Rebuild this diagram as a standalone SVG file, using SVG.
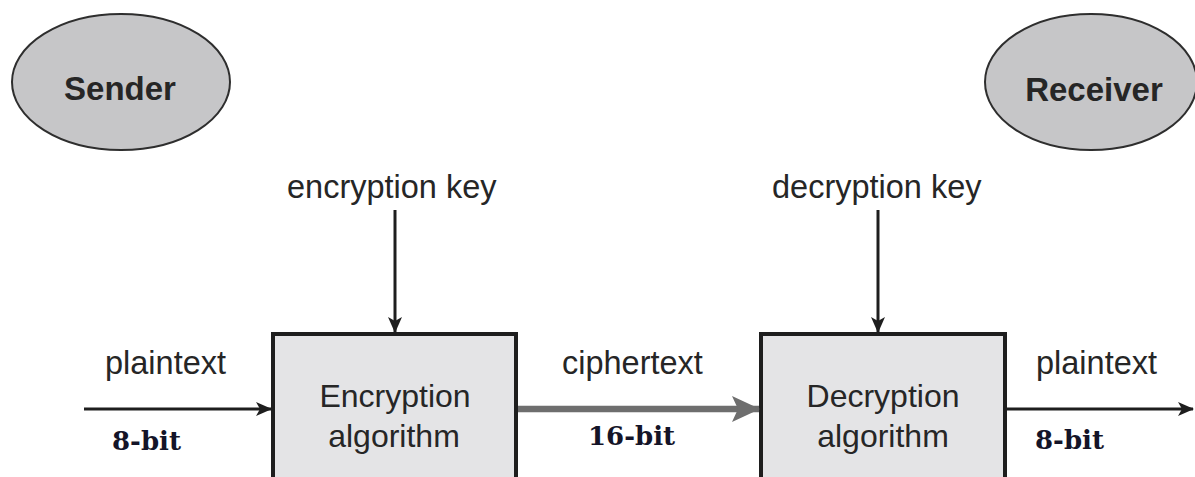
<svg xmlns="http://www.w3.org/2000/svg" width="1195" height="477" viewBox="0 0 1195 477">
  <defs>
    <style>
      .party { fill: #c6c6c8; stroke: #2e2e2e; stroke-width: 2; }
      .party-label { font-family: "Liberation Sans", Arial, sans-serif; font-weight: bold; font-size: 33px; fill: #262626; text-anchor: middle; }
      .block { fill: #e4e4e6; stroke: #1e1e1e; stroke-width: 4; }
      .block-label { font-family: "Liberation Sans", Arial, sans-serif; font-size: 32px; fill: #262626; text-anchor: middle; }
      .label { font-family: "Liberation Sans", Arial, sans-serif; font-size: 32.5px; fill: #262626; }
      .bits { font-family: "DejaVu Serif", "Liberation Serif", serif; font-weight: bold; font-size: 26px; fill: #141428; }
      .wire { stroke: #1e1e1e; stroke-width: 3; fill: none; }
      .wire-thick { stroke: #6e6e6e; stroke-width: 6.5; fill: none; }
    </style>
    <marker id="arrow" markerWidth="16" markerHeight="14" refX="15" refY="7" orient="auto" markerUnits="userSpaceOnUse">
      <path d="M0,0 L16,7 L0,14 L4,7 Z" fill="#1e1e1e"/>
    </marker>
    <marker id="arrow-thick" markerWidth="28" markerHeight="26" refX="27" refY="13" orient="auto" markerUnits="userSpaceOnUse">
      <path d="M0,0 L28,13 L0,26 L6,13 Z" fill="#6e6e6e"/>
    </marker>
  </defs>
  <rect width="1195" height="477" fill="#ffffff"/>

  <g id="sender">
    <ellipse class="party" cx="121" cy="82" rx="109" ry="68"/>
    <text class="party-label" x="120" y="100">Sender</text>
  </g>

  <g id="receiver">
    <ellipse class="party" cx="1091" cy="82" rx="106" ry="68"/>
    <text class="party-label" x="1094" y="101">Receiver</text>
  </g>

  <g id="encryption">
    <rect class="block" x="273" y="334" width="243" height="160"/>
    <text class="block-label" x="395" y="407">Encryption</text>
    <text class="block-label" x="394" y="447">algorithm</text>
  </g>

  <g id="decryption">
    <rect class="block" x="761" y="334" width="244" height="160"/>
    <text class="block-label" x="883" y="407">Decryption</text>
    <text class="block-label" x="883" y="447">algorithm</text>
  </g>

  <g id="connectors">
    <line class="wire" x1="84" y1="409" x2="271" y2="409" marker-end="url(#arrow)"/>
    <line class="wire" x1="395" y1="210" x2="395" y2="332" marker-end="url(#arrow)"/>
    <line class="wire" x1="878" y1="210" x2="878" y2="332" marker-end="url(#arrow)"/>
    <line class="wire-thick" x1="518" y1="409" x2="759" y2="409" marker-end="url(#arrow-thick)"/>
    <line class="wire" x1="1007" y1="409" x2="1193" y2="409" marker-end="url(#arrow)"/>
  </g>

  <g id="labels">
    <text class="label" x="287" y="198">encryption key</text>
    <text class="label" x="772" y="198">decryption key</text>
    <text class="label" x="105" y="374">plaintext</text>
    <text class="label" x="562" y="374">ciphertext</text>
    <text class="label" x="1036" y="374">plaintext</text>
    <text class="bits" x="112" y="450">8-bit</text>
    <text class="bits" x="588" y="445" font-size="24.5">16-bit</text>
    <text class="bits" x="1035" y="449">8-bit</text>
  </g>
</svg>
